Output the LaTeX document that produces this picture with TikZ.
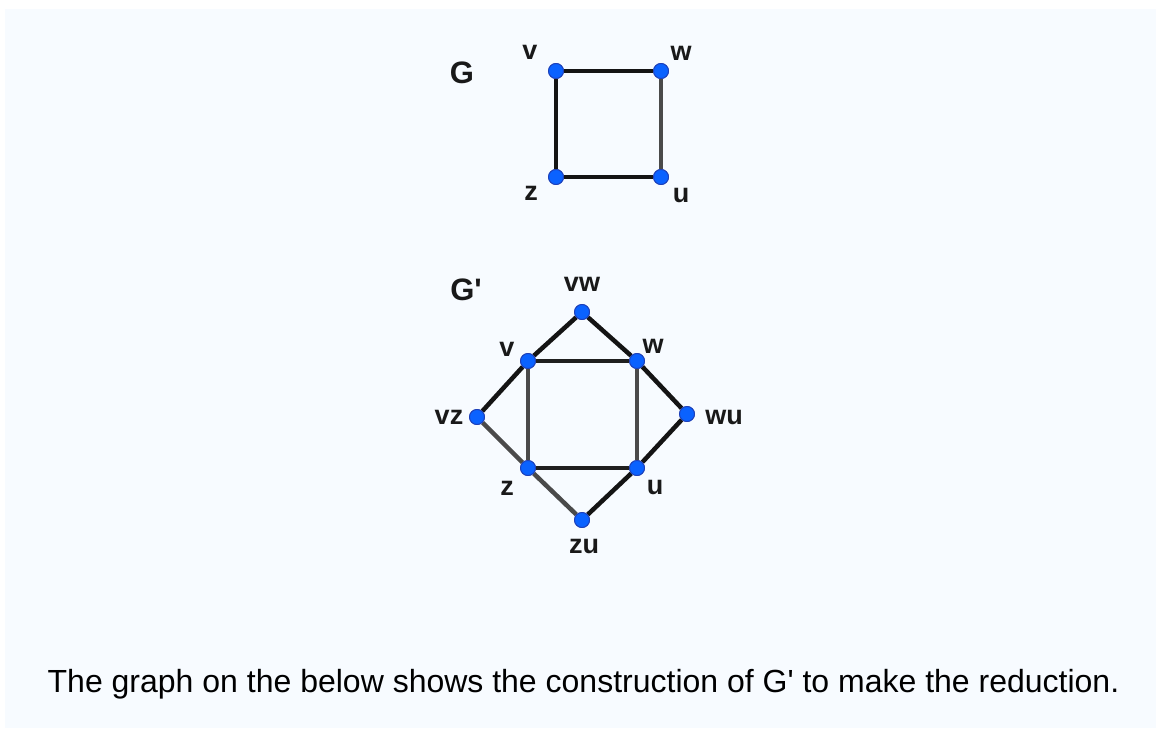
\documentclass[tikz,border=0pt]{standalone}
\usepackage{fontspec}
\setmainfont{Liberation Sans}
\definecolor{panel}{HTML}{F7FBFF}
\definecolor{nodeblue}{HTML}{0A62FF}
\definecolor{nodeedge}{HTML}{1E40B8}
\definecolor{edgegray}{HTML}{4A4A4A}
\newcommand{\sq}{\textquotesingle}
\tikzset{
  vtx/.style={circle, fill=nodeblue, draw=nodeedge, line width=0.9pt, minimum size=15pt, inner sep=0pt},
  lbl/.style={font=\fontsize{27}{29}\selectfont\bfseries, text=black!90, inner sep=0pt},
  title/.style={font=\fontsize{31}{34}\selectfont\bfseries, text=black!90, inner sep=0pt},
  thick edge/.style={draw=black!92, line width=4.5pt},
  thin edge/.style={draw=black!88, line width=3.2pt},
  gray edge/.style={draw=edgegray, line width=4.5pt},
}
\begin{document}
\begin{tikzpicture}[x=1pt, y=-1pt]
\useasboundingbox (0,0) rectangle (1156,728);
\fill[white] (0,0) rectangle (1156,728);
\fill[panel] (5,9) rectangle (1156,728);

% ---------- G ----------
\node[title] (tG) at (462,73) {G};
\node[vtx] (gv) at (556,71) {};
\node[vtx] (gw) at (661,71) {};
\node[vtx] (gz) at (556,177) {};
\node[vtx] (gu) at (661,177) {};
\draw[thick edge] (gv) -- (gw);
\draw[thick edge] (gv) -- (gz);
\draw[thick edge] (gz) -- (gu);
\draw[gray edge, line width=3.8pt] (gw) -- (gu);
\node[vtx] at (gv) {};
\node[vtx] at (gw) {};
\node[vtx] at (gz) {};
\node[vtx] at (gu) {};
\node[lbl] (lgv) at (530,52) {v};
\node[lbl] (lgw) at (681,53) {w};
\node[lbl] (lgz) at (531,193) {z};
\node[lbl] (lgu) at (681,195) {u};

% ---------- G' ----------
\node[title] (tGp) at (466,290) {G\sq};
\node[vtx] (vw) at (582,312) {};
\node[vtx] (v)  at (528,361) {};
\node[vtx] (w)  at (637,361) {};
\node[vtx] (vz) at (477,417) {};
\node[vtx] (wu) at (687,414) {};
\node[vtx] (z)  at (528,468) {};
\node[vtx] (u)  at (637,468) {};
\node[vtx] (zu) at (582,520) {};

\draw[thin edge] (v) -- (w);
\draw[thin edge, draw=edgegray] (v) -- (z);
\draw[thin edge] (z) -- (u);
\draw[gray edge, line width=3.8pt] (w) -- (u);
\draw[thick edge] (vw) -- (v);
\draw[thick edge] (vw) -- (w);
\draw[thick edge] (v) -- (vz);
\draw[gray edge] (vz) -- (z);
\draw[thick edge] (w) -- (wu);
\draw[thick edge] (wu) -- (u);
\draw[gray edge] (z) -- (zu);
\draw[thick edge] (u) -- (zu);
\foreach \n in {vw,v,w,vz,wu,z,u,zu} \node[vtx] at (\n) {};

\node[lbl] (lvw) at (582,284) {vw};
\node[lbl] (lv)  at (507,349) {v};
\node[lbl] (lw)  at (653,346) {w};
\node[lbl] (lvz) at (449,417) {vz};
\node[lbl] (lwu) at (724,417) {wu};
\node[lbl] (lz)  at (507,488) {z};
\node[lbl] (lu)  at (655,487) {u};
\node[lbl] (lzu) at (584,546) {zu};

% ---------- caption ----------
\node[anchor=base, inner sep=0pt, font=\fontsize{32}{36}\selectfont, text=black] (cap) at (583.5,692)
  {The graph on the below shows the construction of G\sq{} to make the reduction.};
\end{tikzpicture}
\end{document}
